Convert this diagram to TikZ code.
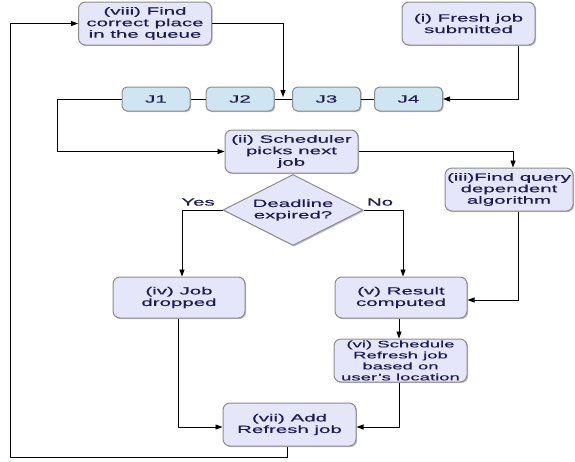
\documentclass[tikz,border=0pt]{standalone}
\usepackage{fontspec}
\setmainfont{Liberation Sans}[FakeStretch=1.95,FakeBold=0.4]
\usetikzlibrary{arrows.meta,shapes.geometric,shadows,calc}
\definecolor{boxfill}{HTML}{E6E6FA}
\definecolor{jfill}{HTML}{CFE5F2}
\definecolor{boxline}{HTML}{8C8C8C}
\definecolor{txt}{HTML}{1C1C50}
\begin{document}
\begin{tikzpicture}[x=1pt,y=-1pt,
  base/.style={draw=boxline, line width=1pt, text=txt, inner sep=0pt, align=center,
     font=\fontsize{10.5}{11.5}\selectfont,
     drop shadow={shadow xshift=1.2pt, shadow yshift=-1.2pt, fill=black, opacity=0.25}},
  stepbox/.style={base, rounded corners=7pt, fill=boxfill, minimum width=133pt, minimum height=43pt},
  jobbox/.style={base, rounded corners=5pt, fill=jfill, minimum width=68pt, minimum height=24pt},
  decbox/.style={base, shape=diamond, aspect=2, fill=boxfill, minimum width=140pt, minimum height=71pt},
  lbl/.style={text=txt, font=\fontsize{10.5}{11.5}\selectfont, inner sep=0pt},
  conn/.style={draw=black, line width=0.9pt},
  arr/.style={conn, -{Triangle[length=7pt,width=5pt]}}]
\useasboundingbox (0,0) rectangle (575,461);

\node[stepbox] (viii) at (145,23.5) {(viii) Find\\correct place\\in the queue};
\node[stepbox] (i) at (468.5,23.5) {(i) Fresh job\\submitted};
\node[jobbox] (J1) at (156,99) {J1};
\node[jobbox] (J2) at (240,99) {J2};
\node[jobbox] (J3) at (326.5,99) {J3};
\node[jobbox] (J4) at (408.5,99) {J4};
\node[stepbox] (ii) at (291.5,151.5) {(ii) Scheduler\\picks next\\job};
\node[stepbox, minimum width=128pt] (iii) at (509,189.5) {(iii)Find query\\dependent\\algorithm};
\node[decbox] (d) at (293,210) {Deadline\\expired?};
\node[stepbox, minimum width=132pt, minimum height=41pt] (iv) at (179,297.5) {(iv) Job\\dropped};
\node[stepbox, minimum width=132pt, minimum height=41pt] (v) at (401,297.5) {(v) Result\\computed};
\node[stepbox, font=\fontsize{9.5}{11}\selectfont] (vi) at (400.5,360.5) {(vi) Schedule\\Refresh job\\based on\\user's location};
\node[stepbox] (vii) at (289.5,424.5) {(vii) Add\\Refresh job};

\node[lbl] (yes) at (198,202) {Yes};
\node[lbl] (no) at (380,202) {No};

\coordinate (q23) at (283,97);
\coordinate (bl) at (10,457);

% queue links
\draw[conn] (J1.east) -- (J2.west);
\draw[conn] (J2.east) -- (J3.west);
\draw[conn] (J3.east) -- (J4.west);

\draw[arr] (viii.east) -| (q23);
\draw[arr] ([xshift=-17pt]i.south east) |- (J4.east);
\draw[arr] (J1.west) -- ++(-64,0) |- (ii.west);
\draw[arr] (ii.east) -| ([xshift=4pt]iii.north);
\draw[arr] (d.west) -| ([xshift=3pt]iv.north);
\draw[arr] (d.east) -| ([xshift=2pt]v.north);
\draw[arr] ([xshift=9pt]iii.south) |- ([yshift=-2.5pt]v.east);
\draw[arr] ([xshift=-2pt]v.south) -- ([xshift=-1.5pt]vi.north);
\draw[arr] ([xshift=-1pt]iv.south) |- ([yshift=-2.5pt]vii.west);
\draw[arr] ([xshift=-1.5pt]vi.south) |- ([yshift=-2.5pt]vii.east);
\draw[arr] ([xshift=-2.5pt]vii.south) |- (bl) |- (viii.west);
\end{tikzpicture}
\end{document}
